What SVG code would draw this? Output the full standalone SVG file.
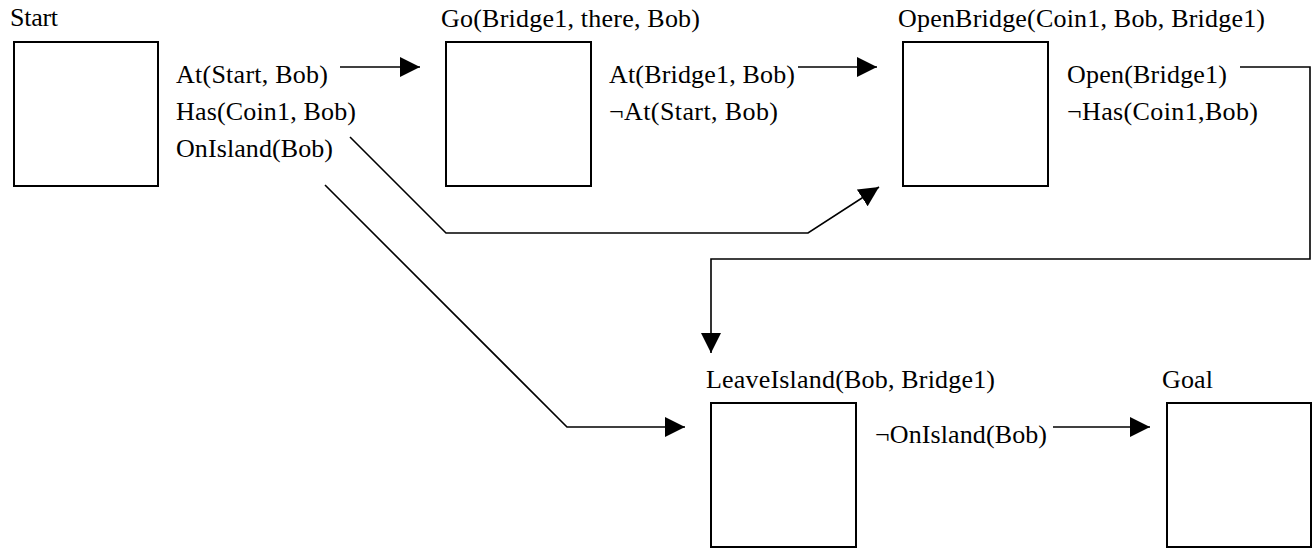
<svg xmlns="http://www.w3.org/2000/svg" width="1312" height="548" viewBox="0 0 1312 548">
<style>
text{font-family:"Liberation Serif","Times New Roman",serif;font-size:26px;fill:#000}
.box{fill:#fff;stroke:#000;stroke-width:2}
.con{fill:none;stroke:#000;stroke-width:1.6}
</style>
<defs>
<marker id="ah" markerUnits="userSpaceOnUse" markerWidth="22" markerHeight="20" refX="20" refY="10" orient="auto">
<path d="M0,0 L20,10 L0,20 Z" fill="#000"/>
</marker>
</defs>
<rect width="1312" height="548" fill="#fff"/>
<g id="start">
<text x="10" y="26" textLength="48" lengthAdjust="spacing">Start</text>
<rect class="box" x="14" y="42" width="144" height="144"/>
<text x="176" y="83" textLength="152" lengthAdjust="spacing">At(Start, Bob)</text>
<text x="176" y="120" textLength="180" lengthAdjust="spacing">Has(Coin1, Bob)</text>
<text x="176" y="157" textLength="157" lengthAdjust="spacing">OnIsland(Bob)</text>
</g>
<g id="go">
<text x="441" y="27" textLength="259" lengthAdjust="spacing">Go(Bridge1, there, Bob)</text>
<rect class="box" x="446" y="42" width="145" height="144"/>
<text x="609" y="83" textLength="186" lengthAdjust="spacing">At(Bridge1, Bob)</text>
<text x="609" y="120" textLength="169" lengthAdjust="spacing">¬At(Start, Bob)</text>
</g>
<g id="openbridge">
<text x="898" y="27" textLength="367" lengthAdjust="spacing">OpenBridge(Coin1, Bob, Bridge1)</text>
<rect class="box" x="903" y="42" width="145" height="144"/>
<text x="1067" y="83" textLength="160" lengthAdjust="spacing">Open(Bridge1)</text>
<text x="1067" y="120" textLength="191" lengthAdjust="spacing">¬Has(Coin1,Bob)</text>
</g>
<g id="leaveisland">
<text x="706" y="388" textLength="289" lengthAdjust="spacing">LeaveIsland(Bob, Bridge1)</text>
<rect class="box" x="711" y="403" width="145" height="144"/>
<text x="875" y="443" textLength="172" lengthAdjust="spacing">¬OnIsland(Bob)</text>
</g>
<g id="goal">
<text x="1162" y="388" textLength="51" lengthAdjust="spacing">Goal</text>
<rect class="box" x="1167" y="403" width="144" height="144"/>
</g>
<g id="connectors">
<path class="con" d="M340,67 L420,67" marker-end="url(#ah)"/>
<path class="con" d="M798,67 L877,67" marker-end="url(#ah)"/>
<path class="con" d="M1240,67 L1310,67 L1310,259 L711,259 L711,353" marker-end="url(#ah)"/>
<path class="con" d="M350,137 L446,233 L808,233 L879,187" marker-end="url(#ah)"/>
<path class="con" d="M325,185 L567,427 L685,427" marker-end="url(#ah)"/>
<path class="con" d="M1053,427 L1150,427" marker-end="url(#ah)"/>
</g>
</svg>
